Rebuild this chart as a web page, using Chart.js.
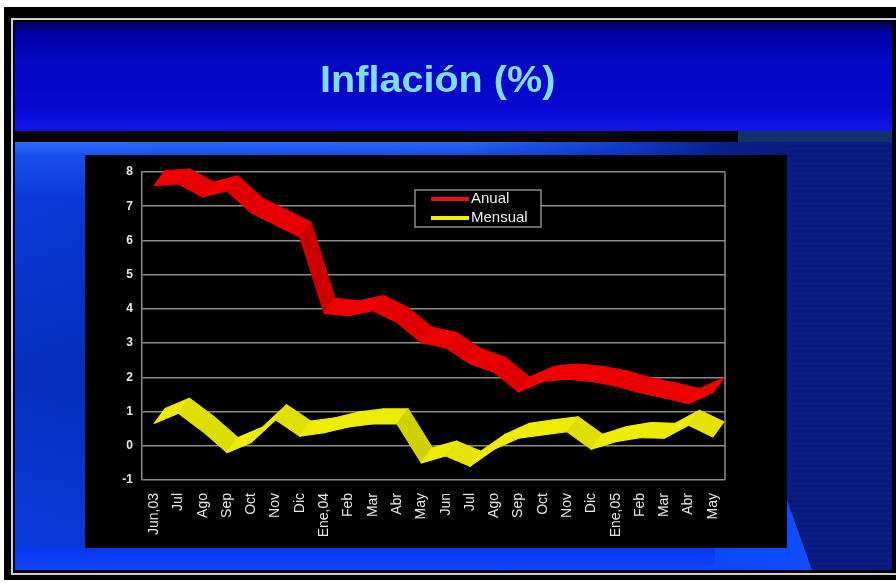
<!DOCTYPE html>
<html>
<head>
<meta charset="utf-8">
<script src="https://cdn.jsdelivr.net/npm/chart.js@4.4.1/dist/chart.umd.min.js"></script>
<style>
  html, body { margin: 0; padding: 0; background: #fff; }
  body { position: relative; width: 896px; height: 583px; overflow: hidden; font-family: "Liberation Sans", Arial, sans-serif; }
  .abs { position: absolute; }
  #outer { left: 4px; top: 7px; width: 900px; height: 573px; background: #000; }
  #rule { left: 11px; top: 18px; width: 890px; height: 557px; box-sizing: border-box; border: 2px solid #cfcfcf; border-right: none; background: #000; }
  #slide { left: 15px; top: 22px; width: 877px; height: 548px; overflow: hidden;
    background: linear-gradient(to right, #0a3ce0 0%, #0634d0 40%, #0628b0 70%, #0a1e80 85%, #0b1a70 100%); }
  #band { left: 0; top: 0; width: 877px; height: 109px;
    background: linear-gradient(to bottom, #000060 0%, #0000a8 12%, #0606c4 35%, #0808d0 75%, #1414e6 100%); }
  #bar { left: 0; top: 109px; width: 723px; height: 11px; background: #000; }
  #barRight { left: 723px; top: 109px; width: 154px; height: 11px; background: #14306a; }
  #glow { left: 0; top: 120px; width: 877px; height: 60px;
    background: linear-gradient(to bottom, rgba(50,115,255,0.85) 0px, rgba(40,100,255,0.5) 14px, rgba(40,100,255,0) 60px);
    -webkit-mask-image: linear-gradient(to right, #000 0%, #000 50%, rgba(0,0,0,0) 80%);
    mask-image: linear-gradient(to right, #000 0%, #000 50%, rgba(0,0,0,0) 80%); }
  #leftcol { left: 0; top: 120px; width: 70px; height: 428px;
    background: linear-gradient(to bottom, rgba(0,0,0,0) 0%, rgba(0,10,80,0.25) 55%, rgba(0,0,0,0) 100%); }
  #side { left: 772px; top: 120px; width: 105px; height: 428px;
    background: repeating-linear-gradient(to bottom, #0b1c86 0px, #0b1c86 3px, #0a197a 3px, #0a197a 5px); }
  #foot { left: 0; top: 526px; width: 772px; height: 22px;
    background: linear-gradient(to bottom, #0836f0 0%, #0c46ff 100%); }
  #streak { left: 700px; top: 470px; width: 177px; height: 78px;
    background: linear-gradient(to right, #0c46ff 0%, #1450ff 85%, #2a60ff 100%);
    clip-path: polygon(0 0, 72px 0, 72px 8px, 97px 78px, 0 78px); }
  #title { left: 320px; top: 62px; font-weight: bold; font-size: 36px; line-height: 36px; color: #80dcf4;
    transform: scaleX(1.1); transform-origin: left top; white-space: nowrap; }
  #panel { left: 85px; top: 155px; width: 702px; height: 393px; background: #000; }
</style>
</head>
<body>
<div id="outer" class="abs"></div>
<div id="rule" class="abs"></div>
<div id="slide" class="abs">
  <div id="band" class="abs"></div>
  <div id="bar" class="abs"></div>
  <div id="barRight" class="abs"></div>
  <div id="leftcol" class="abs"></div>
  <div id="side" class="abs"></div>
  <div id="glow" class="abs"></div>
  <div id="foot" class="abs"></div>
  <div id="streak" class="abs"></div>
</div>
<div id="title" class="abs">Inflación (%)</div>
<div id="panel" class="abs"><canvas id="inflChart" width="702" height="393"></canvas></div>

<script>
// Meses de junio 2003 a mayo 2005
const meses = ['Jun,03', 'Jul', 'Ago', 'Sep', 'Oct', 'Nov', 'Dic', 'Ene,04', 'Feb', 'Mar', 'Abr', 'May',
  'Jun', 'Jul', 'Ago', 'Sep', 'Oct', 'Nov', 'Dic', 'Ene,05', 'Feb', 'Mar', 'Abr', 'May'];

const anual = [7.6, 7.65, 7.27, 7.45, 6.8, 6.45, 6.1, 3.87, 3.8, 3.95, 3.6, 3.02,
  2.87, 2.4, 2.15, 1.57, 1.88, 1.95, 1.88, 1.75, 1.55, 1.4, 1.23, 1.55];

const mensual = [0.65, 0.95, 0.42, -0.2, 0.1, 0.76, 0.28, 0.38, 0.55, 0.64, 0.64, -0.5,
  -0.3, -0.6, -0.1, 0.22, 0.32, 0.41, -0.1, 0.12, 0.24, 0.22, 0.6, 0.26];

const yTicks = [-1, 0, 1, 2, 3, 4, 5, 6, 7, 8];

const GRID = '#8c8c8c';
const DEPTH_X = 11, DEPTH_Y = 15; // ribbon depth, px

const shade = (rgb, k) => `rgb(${rgb.map(c => Math.round(c * k)).join(',')})`;

// draws each series as a 3D ribbon from the points the scales placed
const ribbons = {
  id: 'ribbons',
  afterDatasetsDraw(chart) {
    const ctx = chart.ctx;
    ctx.save();
    chart.data.datasets.forEach((ds, di) => {
      const pts = chart.getDatasetMeta(di).data;
      for (let i = 0; i < pts.length - 1; i++) {
        const a = pts[i], b = pts[i + 1];
        const slope = (b.y - a.y) / (b.x - a.x);
        const k = 1 - 0.15 * Math.min(1, Math.max(0, slope) / 2);
        const col = shade(ds.rgb, k);
        ctx.fillStyle = col;
        ctx.strokeStyle = col;
        ctx.lineWidth = 1.2;
        ctx.lineJoin = 'round';
        ctx.beginPath();
        ctx.moveTo(a.x, a.y);
        ctx.lineTo(b.x, b.y);
        ctx.lineTo(b.x + DEPTH_X, b.y - DEPTH_Y);
        ctx.lineTo(a.x + DEPTH_X, a.y - DEPTH_Y);
        ctx.closePath();
        ctx.fill();
        ctx.stroke();
      }
    });
    ctx.restore();
  },
  afterDraw(chart) {
    const ctx = chart.ctx;
    const area = chart.chartArea;
    ctx.save();
    // right edge of the plot box
    ctx.strokeStyle = GRID;
    ctx.lineWidth = 1.5;
    ctx.beginPath();
    ctx.moveTo(area.right, area.top);
    ctx.lineTo(area.right, area.bottom);
    ctx.stroke();

    // legend box
    const lx = 330, ly = 35, lw = 126, lh = 37;
    ctx.fillStyle = '#000';
    ctx.fillRect(lx, ly, lw, lh);
    ctx.strokeStyle = GRID;
    ctx.lineWidth = 1.5;
    ctx.strokeRect(lx, ly, lw, lh);
    ctx.font = '15px "Liberation Sans", Arial, sans-serif';
    ctx.textBaseline = 'middle';
    chart.data.datasets.forEach((ds, i) => {
      const y = ly + 9 + i * 19;
      ctx.strokeStyle = ds.borderColor;
      ctx.lineWidth = 4;
      ctx.beginPath();
      ctx.moveTo(lx + 16, y);
      ctx.lineTo(lx + 54, y);
      ctx.stroke();
      ctx.fillStyle = '#f0f0f0';
      ctx.fillText(ds.label, lx + 56, y);
    });
    ctx.restore();
  }
};

const chart = new Chart(document.getElementById('inflChart').getContext('2d'), {
  type: 'line',
  data: {
    labels: meses,
    datasets: [
      { label: 'Anual', data: anual, rgb: [240, 0, 0], borderColor: '#e81010', showLine: false, pointRadius: 0 },
      { label: 'Mensual', data: mensual, rgb: [238, 236, 0], borderColor: '#f0f000', showLine: false, pointRadius: 0 }
    ]
  },
  options: {
    responsive: false,
    animation: false,
    layout: { padding: { top: 17, right: 62, left: 0, bottom: 0 } },
    plugins: { legend: { display: false }, tooltip: { enabled: false } },
    scales: {
      x: {
        offset: true,
        grid: { display: false },
        border: { display: false },
        ticks: {
          autoSkip: false, minRotation: 90, maxRotation: 90, padding: 5,
          color: '#e8e8e8', font: { family: '"Liberation Sans", Arial, sans-serif', size: 14 }
        },
        afterFit: scale => { scale.height = 68; }
      },
      y: {
        min: yTicks[0],
        max: yTicks[yTicks.length - 1],
        afterBuildTicks: scale => { scale.ticks = yTicks.map(v => ({ value: v })); },
        grid: { color: GRID, lineWidth: 1.5, drawTicks: false },
        border: { display: true, color: GRID, width: 1.5 },
        ticks: {
          padding: 9, color: '#e8e8e8',
          font: { family: '"Liberation Sans", Arial, sans-serif', size: 12, weight: 'bold' }
        },
        afterFit: scale => { scale.width = 57; }
      }
    }
  },
  plugins: [ribbons]
});
</script>
</body>
</html>
